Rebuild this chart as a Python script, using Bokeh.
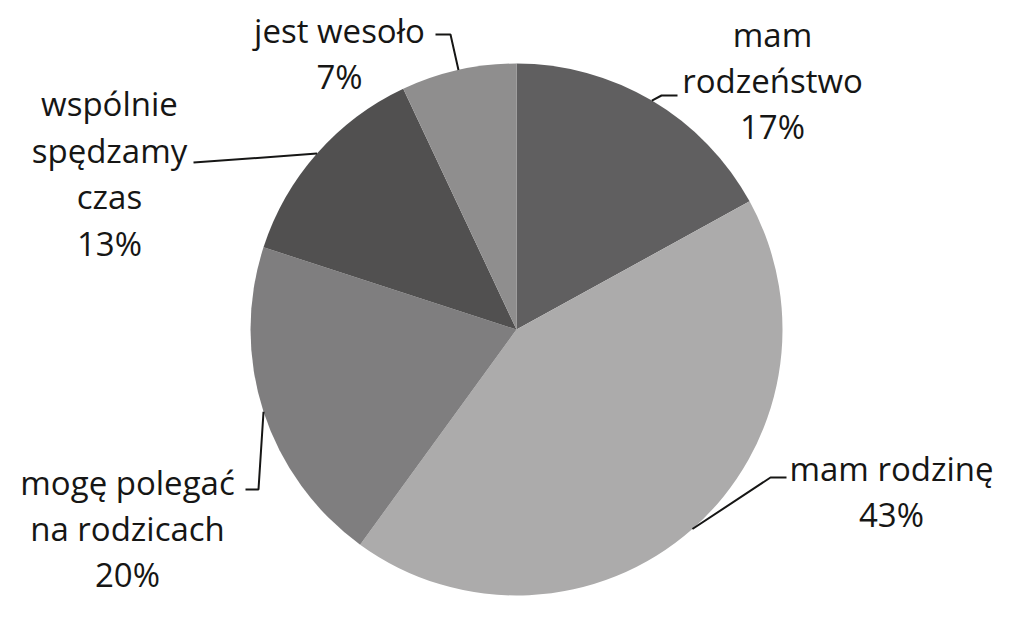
import math
from bokeh.plotting import figure
from bokeh.models import Range1d, ColumnDataSource
from bokeh.core.properties import value
from bokeh.embed import file_html
from bokeh.resources import INLINE

# ---- data ----
categories = ["mam rodzeństwo", "mam rodzinę", "mogę polegać na rodzicach",
              "wspólnie spędzamy czas", "jest wesoło"]
label_lines = ["mam\nrodzeństwo", "mam rodzinę", "mogę polegać\nna rodzicach",
               "wspólnie\nspędzamy\nczas", "jest wesoło"]
percent = [17, 43, 20, 13, 7]
colors = ["#605f60", "#acabab", "#7f7e7f", "#515050", "#8f8e8e"]

# ---- layout (pixel coordinates of the page) ----
PAGE_H = 641
CX, CY, R = 516, 329, 266
label_pos = [(772, 80), (891, 491), (127, 528), (109, 173), (339, 53)]
leader_tail = [
    [(661, 95), (677, 95)],
    [(770, 477), (786, 477)],
    [(258, 489), (245, 489)],
    [(193, 162)],
    [(450, 34), (435, 34)],
]

def fy(py):
    return PAGE_H - py

total = sum(percent)
starts, ends, mids = [], [], []
cum = 0.0
for v in percent:
    a0 = cum / total
    cum += v
    a1 = cum / total
    starts.append(math.pi / 2 - 2 * math.pi * a0)
    ends.append(math.pi / 2 - 2 * math.pi * a1)
    mids.append(math.pi / 2 - 2 * math.pi * (a0 + a1) / 2)

p = figure(width=1008, height=625, x_range=Range1d(0, 1008), y_range=Range1d(16, 641),
           output_backend="svg", toolbar_location=None, min_border=0)
p.axis.visible = False
p.grid.visible = False
p.outline_line_color = None
p.background_fill_color = "white"
p.border_fill_color = "white"

src = ColumnDataSource(dict(cat=categories, start=starts, end=ends, color=colors))
p.wedge(x=CX, y=fy(CY), radius=R, start_angle="start", end_angle="end",
        direction="clock", fill_color="color", line_color=None, source=src)

xs, ys = [], []
for m, tail in zip(mids, leader_tail):
    sx = CX + R * math.cos(m)
    sy = fy(CY) + R * math.sin(m)
    xs.append([sx] + [t[0] for t in tail])
    ys.append([sy] + [fy(t[1]) for t in tail])
p.multi_line(xs, ys, line_color="#161615", line_width=2)

texts = [f"{l}\n{v}%" for l, v in zip(label_lines, percent)]
p.text(x=[lp[0] for lp in label_pos], y=[fy(lp[1]) for lp in label_pos], text=texts,
       text_font=value("Open Sans"), text_font_size="33px", text_align="center",
       text_baseline="middle", text_line_height=1.03, text_color="#161615")

open("out.html", "w").write(file_html(p, INLINE))
